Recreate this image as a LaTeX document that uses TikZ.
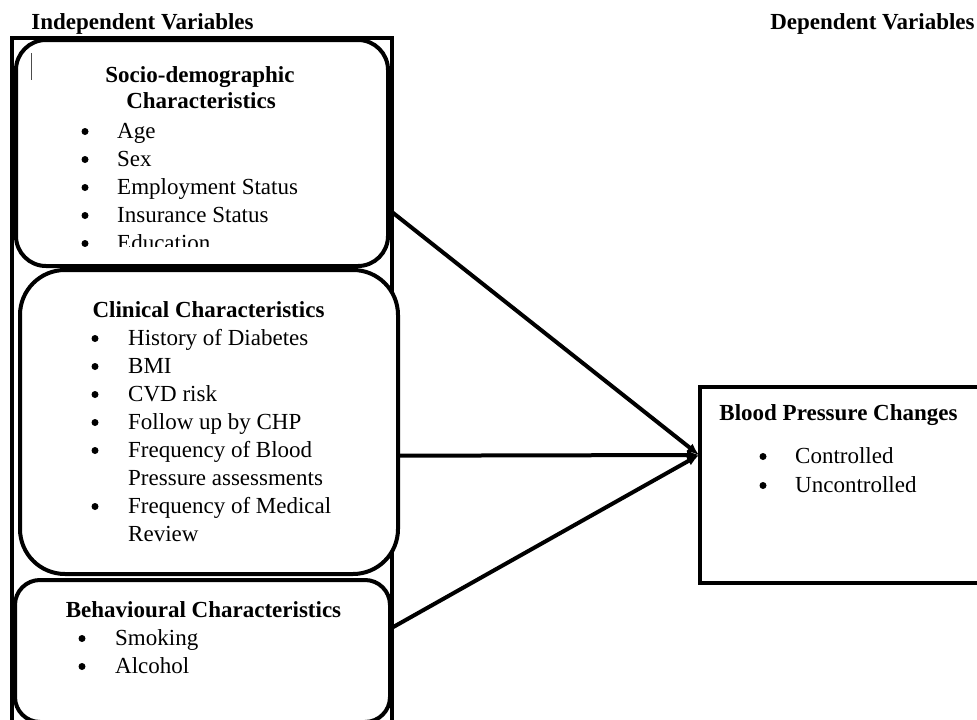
\documentclass[tikz,border=0pt]{standalone}
\usepackage{fontspec}
\setmainfont{Liberation Serif}
\usetikzlibrary{arrows.meta}

\begin{document}
\begin{tikzpicture}[x=1pt, y=-1pt,
        box/.style={draw, line width=4pt, fill=white, rounded corners=#1,
                    inner sep=0pt},
        box/.default=30pt,
        hd/.style={font=\fontsize{23}{28}\selectfont\bfseries, inner sep=0pt,
                   anchor=base},
        txt/.style={font=\fontsize{23}{28}\selectfont, inner sep=0pt,
                    anchor=base west},
        bul/.style={circle, fill, inner sep=0pt, minimum size=7pt,
                    yshift=6.5pt},
        arr/.style={-{Latex[length=12pt,width=10pt]}, line width=4pt}
    ]
        \clip (0,0) rectangle (977,720);
        \fill[white] (0,0) rectangle (977,720);

        % headers
        \node[hd] (iv) at (142.5,29) {Independent Variables};
        \node[hd] (dv) at (872.5,29) {Dependent Variables};

        % frame round the independent variables
        \draw[line width=4pt] (12,37.5) rectangle (392,745);

        % boxes
        \node[box=30pt, minimum width=372, minimum height=226] (soc) at (202,153) {};
        \node[box=45pt, minimum width=378, minimum height=304] (cli) at (209,422) {};
        \node[box=25pt, minimum width=375, minimum height=142] (beh) at (202.5,651) {};
        \node[draw, line width=4pt, inner sep=0pt, minimum width=290,
              minimum height=196] (bp) at (845,485) {};
        \draw[line width=0.8pt, black!70] (31,53) -- (31,80);

        % socio-demographic
        \node[hd] (soch1) at (200,82) {Socio-demographic};
        \node[hd] (soch2) at (201,108) {Characteristics};
        \begin{scope}
            \clip (16,40) rectangle (388,246);
            \foreach \t [count=\i from 0] in {Age, Sex, Employment Status,
                    Insurance Status, Education} {
                \node[bul] (sb\i) at (85,138+28*\i) {};
                \node[txt] (st\i) at (117,138+28*\i) {\t};
            }
        \end{scope}

        % clinical
        \node[hd] (clih) at (208.5,317) {Clinical Characteristics};
        \foreach \t [count=\i from 0] in {History of Diabetes, BMI, CVD risk,
                Follow up by CHP, Frequency of Blood, Pressure assessments,
                Frequency of Medical, Review}
            \node[txt] (ct\i) at (128,345+28*\i) {\t};
        \foreach \i in {0,1,2,3,4,6}
            \node[bul] (cb\i) at (95,345+28*\i) {};

        % behavioural
        \node[hd] (behh) at (203.5,617) {Behavioural Characteristics};
        \foreach \t [count=\i from 0] in {Smoking, Alcohol} {
            \node[bul] (bb\i) at (82,645+28*\i) {};
            \node[txt] (bt\i) at (115,645+28*\i) {\t};
        }

        % dependent variable
        \node[hd] (bph) at (838.5,420) {Blood Pressure Changes};
        \foreach \t [count=\i from 0] in {Controlled, Uncontrolled} {
            \node[bul] (pb\i) at (763,463+29*\i) {};
            \node[txt] (pt\i) at (795,463+29*\i) {\t};
        }

        % connectors
        \coordinate (tip) at (699,455);
        \draw[arr] (soc.-17.6) -- (tip);
        \draw[arr] (cli.-10.4) -- (tip);
        \draw[arr] (beh.7) -- (tip);
    \end{tikzpicture}
\end{document}
